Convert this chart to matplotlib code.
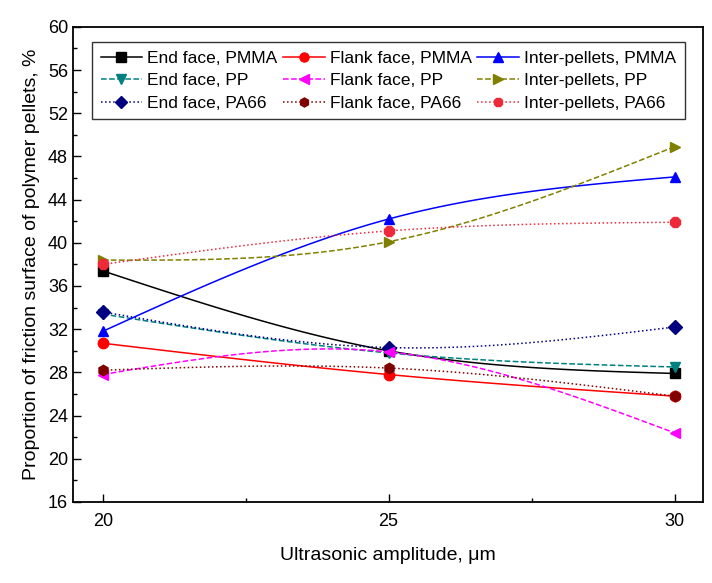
import matplotlib.pyplot as plt
import numpy as np

plt.rcParams['font.family'] = ['Liberation Sans', 'DejaVu Sans']

amplitude = [20, 25, 30]

end_pmma = [37.4, 30.0, 27.9]
flank_pmma = [30.7, 27.8, 25.8]
inter_pmma = [31.8, 42.2, 46.1]
end_pp = [33.4, 29.8, 28.5]
flank_pp = [27.8, 29.9, 22.4]
inter_pp = [38.4, 40.1, 48.9]
end_pa66 = [33.6, 30.3, 32.2]
flank_pa66 = [28.2, 28.4, 25.8]
inter_pa66 = [38.0, 41.1, 41.9]


def spline(x, y, n=60):
    # natural cubic spline through the points (Origin-like "spline" connect)
    x = np.asarray(x, float)
    y = np.asarray(y, float)
    k = len(x)
    h = np.diff(x)
    A = np.zeros((k, k))
    b = np.zeros(k)
    A[0, 0] = A[-1, -1] = 1
    for i in range(1, k - 1):
        A[i, i - 1] = h[i - 1]
        A[i, i] = 2 * (h[i - 1] + h[i])
        A[i, i + 1] = h[i]
        b[i] = 6 * ((y[i + 1] - y[i]) / h[i] - (y[i] - y[i - 1]) / h[i - 1])
    M = np.linalg.solve(A, b)
    xs, ys = [], []
    for i in range(k - 1):
        t = np.linspace(x[i], x[i + 1], n)
        a = x[i + 1] - t
        c = t - x[i]
        s = (M[i] * a**3 + M[i + 1] * c**3) / (6 * h[i]) \
            + (y[i] / h[i] - M[i] * h[i] / 6) * a \
            + (y[i + 1] / h[i] - M[i + 1] * h[i] / 6) * c
        xs.extend(t)
        ys.extend(s)
    return xs, ys


series = [
    ("End face, PMMA", end_pmma, "black", "-", "s"),
    ("End face, PP", end_pp, "#008080", "--", "v"),
    ("End face, PA66", end_pa66, "#000080", ":", "D"),
    ("Flank face, PMMA", flank_pmma, "#ff0000", "-", "o"),
    ("Flank face, PP", flank_pp, "#ff00ff", "--", "<"),
    ("Flank face, PA66", flank_pa66, "#800000", ":", "h"),
    ("Inter-pellets, PMMA", inter_pmma, "#0000ff", "-", "^"),
    ("Inter-pellets, PP", inter_pp, "#808000", "--", ">"),
    ("Inter-pellets, PA66", inter_pa66, "#ee2a3a", ":", "8"),
]

fig = plt.figure(figsize=(7.12, 5.83), dpi=100)
ax = fig.add_axes([0.1025, 0.139, 0.885, 0.815])

handles = []
for label, vals, color, ls, mk in series:
    sx, sy = spline(amplitude, vals)
    ax.plot(sx, sy, color=color, ls=ls, lw=1.1)
    ax.plot(amplitude, vals, color=color, ls='none', marker=mk, ms=7.5)
    h, = ax.plot([], [], color=color, ls=ls, lw=1.1, marker=mk, ms=6.5, label=label)
    handles.append(h)

ax.set_xlim(19.48, 30.5)
ax.set_ylim(16, 60)
ax.set_xticks([20, 25, 30])
ax.set_xticks([22.5, 27.5], minor=True)
ax.set_yticks(np.arange(16, 61, 4))
ax.set_yticks(np.arange(18, 60, 4), minor=True)
ax.tick_params(which='both', direction='in', labelsize=13)
ax.tick_params(which='major', length=6, width=1)
ax.tick_params(which='minor', length=3, width=1)
ax.tick_params(axis='x', pad=8)
for sp in ax.spines.values():
    sp.set_linewidth(1.3)

ax.set_xlabel("Ultrasonic amplitude, \u03bcm", fontsize=14, labelpad=12)
ax.set_ylabel("Proportion of friction surface of polymer pellets, %", fontsize=14, labelpad=6)

leg = ax.legend(handles=handles, ncol=3, loc='upper left', bbox_to_anchor=(0.03, 0.968),
                borderaxespad=0, fontsize=12.5, frameon=True, fancybox=False,
                edgecolor='black', borderpad=0.5, labelspacing=0.42, columnspacing=0.3,
                handlelength=2.4, handletextpad=0.3)
leg.get_frame().set_linewidth(1.0)

fig.savefig("out.png", dpi=100)
